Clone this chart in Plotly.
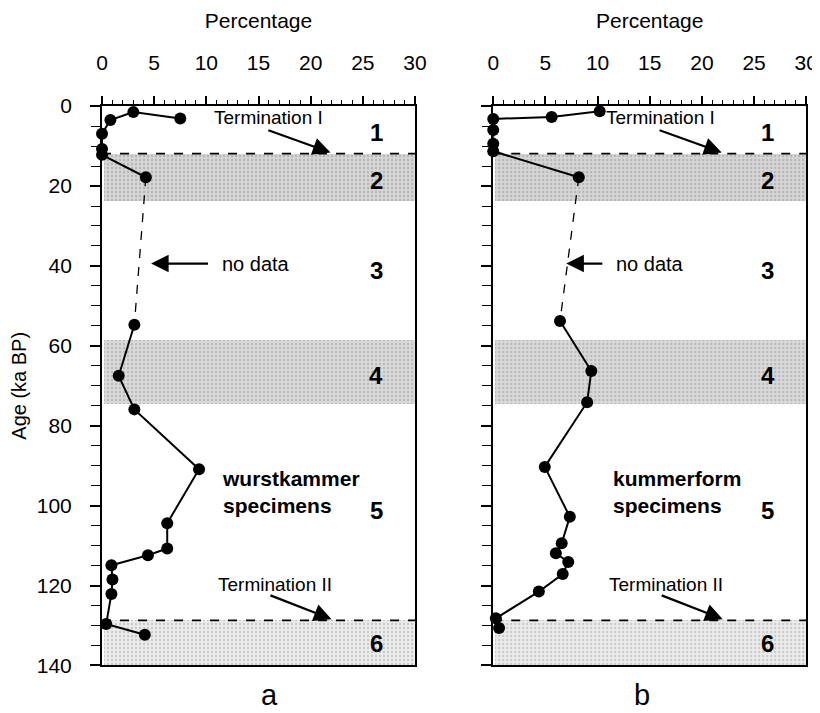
import plotly.graph_objects as go

# ---------------- data ----------------
# panel a: wurstkammer specimens (percentage vs age, ka BP)
a_pct_top = [7.5, 3.0, 0.8, 0.0, 0.0, 0.0, 4.2]
a_age_top = [3.1, 1.5, 3.5, 6.9, 10.7, 12.2, 17.8]
a_pct_gap = [4.2, 3.1]
a_age_gap = [17.8, 54.7]
a_pct_low = [3.1, 1.6, 3.1, 9.3, 6.25, 6.25, 4.4, 0.9, 1.0, 0.9, 0.4, 4.1]
a_age_low = [54.7, 67.5, 75.9, 90.9, 104.4, 110.7, 112.4, 114.9, 118.5, 122.1, 129.6, 132.3]

# panel b: kummerform specimens
b_pct_top = [10.2, 5.6, 0.0, 0.0, 0.0, 0.0, 8.2]
b_age_top = [1.3, 2.7, 3.2, 6.0, 9.4, 11.3, 17.8]
b_pct_gap = [8.2, 6.4]
b_age_gap = [17.8, 53.8]
b_pct_low = [6.4, 9.4, 9.0, 4.94, 7.34, 6.56, 6.0, 7.19, 6.66, 4.37, 0.25, 0.56]
b_age_low = [53.8, 66.3, 74.1, 90.3, 102.8, 109.4, 111.9, 114.1, 117.1, 121.5, 128.2, 130.6]

# isotope stages (glacial bands) and terminations
band_top = [11.9, 58.6, 128.7]
band_bottom = [23.8, 74.5, 140.0]
band_bg = ["#d6d6d6", "#dadada", "#ececec"]
band_fg = ["#8c8c8c", "#909090", "#9c9c9c"]
termination_I = 11.9
termination_II = 128.7
stage_labels = ["1", "2", "3", "4", "5", "6"]
stage_label_ages = [6.6, 18.6, 41.2, 67.4, 101.2, 134.4]

x_ticks = [0, 5, 10, 15, 20, 25, 30]
y_ticks = [0, 20, 40, 60, 80, 100, 120, 140]

FONT = "Liberation Sans, Arial, Helvetica, sans-serif"

fig = go.Figure()

panels = [
    ("x", "y", a_pct_top, a_age_top, a_pct_gap, a_age_gap, a_pct_low, a_age_low),
    ("x2", "y2", b_pct_top, b_age_top, b_pct_gap, b_age_gap, b_pct_low, b_age_low),
]
for xa, ya, pt, at, pg, ag, pl, al in panels:
    # stippled glacial-stage bands
    for t, b, bg, fg in zip(band_top, band_bottom, band_bg, band_fg):
        fig.add_trace(go.Bar(x=[29.8], y=[(t + b) / 2], base=[0.2], width=[b - t],
                             orientation="h", xaxis=xa, yaxis=ya, hoverinfo="skip",
                             marker=dict(color=bg, line=dict(width=0),
                                         pattern=dict(shape=".", fgcolor=fg, bgcolor=bg,
                                                      size=4, solidity=0.25)),
                             showlegend=False))
    fig.add_trace(go.Scatter(x=pt, y=at, xaxis=xa, yaxis=ya, mode="lines+markers",
                             line=dict(color="black", width=2),
                             marker=dict(color="black", size=12),
                             cliponaxis=False, showlegend=False))
    fig.add_trace(go.Scatter(x=pg, y=ag, xaxis=xa, yaxis=ya, mode="lines",
                             line=dict(color="black", width=1.3, dash="dash"),
                             cliponaxis=False, showlegend=False))
    fig.add_trace(go.Scatter(x=pl, y=al, xaxis=xa, yaxis=ya, mode="lines+markers",
                             line=dict(color="black", width=2),
                             marker=dict(color="black", size=12),
                             cliponaxis=False, showlegend=False))

shapes = []
annotations = []
for xa, ya in [("x", "y"), ("x2", "y2")]:
    for yt in (termination_I, termination_II):
        shapes.append(dict(type="line", xref=xa, yref=ya, x0=0, x1=30, y0=yt, y1=yt,
                           line=dict(color="black", width=1.8, dash="dash"), layer="above"))
    for lab, ag in zip(stage_labels, stage_label_ages):
        annotations.append(dict(x=26.3, y=ag, xref=xa, yref=ya, text="<b>%s</b>" % lab,
                                showarrow=False, font=dict(size=24, family=FONT, color="black")))

# termination text + arrows
def add_arrow(xa, ya, x_tail, y_tail, x_head, y_head):
    annotations.append(dict(x=x_head, y=y_head, ax=x_tail, ay=y_tail, xref=xa, yref=ya,
                            axref=xa, ayref=ya, text="", showarrow=True, arrowhead=2,
                            arrowsize=1.6, arrowwidth=2.2, arrowcolor="black", standoff=0))

for xa, ya, name in [("x", "y", "wurstkammer"), ("x2", "y2", "kummerform")]:
    annotations.append(dict(x=16.0, y=2.9, xref=xa, yref=ya, text="Termination I",
                            showarrow=False, font=dict(size=19, family=FONT, color="black")))
    add_arrow(xa, ya, 15.8, 5.9, 21.9, 11.6)
    annotations.append(dict(x=16.6, y=119.8, xref=xa, yref=ya, text="Termination II",
                            showarrow=False, font=dict(size=19, family=FONT, color="black")))
    add_arrow(xa, ya, 16.0, 122.3, 22.0, 128.4)
    annotations.append(dict(x=11.3, y=96.6, xref=xa, yref=ya, xanchor="left",
                            text="<b>%s<br>specimens</b>" % name, align="left",
                            showarrow=False, font=dict(size=21, family=FONT, color="black")))

annotations.append(dict(x=14.8, y=39.4, xref="x", yref="y", text="no data", showarrow=False,
                        font=dict(size=20, family=FONT, color="black")))
add_arrow("x", "y", 10.3, 39.4, 4.7, 39.4)
annotations.append(dict(x=15.0, y=39.4, xref="x2", yref="y2", text="no data", showarrow=False,
                        font=dict(size=20, family=FONT, color="black")))
add_arrow("x2", "y2", 10.6, 39.4, 7.0, 39.4)

for lab, xp in [("a", 250 / 820), ("b", 652 / 820)]:
    annotations.append(dict(x=xp, y=1 - 697 / 713, xref="paper", yref="paper", text=lab,
                            yanchor="middle", showarrow=False,
                            font=dict(size=29, family=FONT, color="black")))

xcommon = dict(range=[0, 30], side="top", tickvals=x_ticks, ticks="outside", ticklen=8,
               tickwidth=1.5, tickcolor="black", showline=True, linewidth=2, linecolor="black",
               mirror=True, showgrid=False, zeroline=False, ticklabelstandoff=18,
               minor=dict(dtick=1, ticks="outside", ticklen=4, tickwidth=1.2, tickcolor="black"),
               tickfont=dict(size=21, family=FONT, color="black"),
               title=dict(text="Percentage", font=dict(size=21, family=FONT, color="black"),
                          standoff=16))
ycommon = dict(range=[140, 0], tickvals=y_ticks, ticks="outside", ticklen=10, tickwidth=1.5,
               tickcolor="black", showline=True, linewidth=2, linecolor="black", mirror=True,
               showgrid=False, zeroline=False, domain=[1 - 667 / 713, 1 - 89 / 713],
               minor=dict(dtick=5, ticks="outside", ticklen=9, tickwidth=1.3, tickcolor="black"),
               tickfont=dict(size=21, family=FONT, color="black"))

fig.update_layout(
    width=820, height=713, margin=dict(l=0, r=0, t=0, b=0),
    paper_bgcolor="white", plot_bgcolor="white", barmode="overlay", bargap=0,
    xaxis=dict(domain=[90 / 820, 410 / 820], anchor="y", **xcommon),
    xaxis2=dict(domain=[490 / 820, 810 / 820], anchor="y2", **xcommon),
    yaxis=dict(anchor="x", ticklabelstandoff=14,
               title=dict(text="Age (ka BP)", font=dict(size=20, family=FONT, color="black"),
                          standoff=10), **ycommon),
    yaxis2=dict(anchor="x2", showticklabels=False, **ycommon),
    shapes=shapes, annotations=annotations, showlegend=False,
)

fig.write_html("out.html")
